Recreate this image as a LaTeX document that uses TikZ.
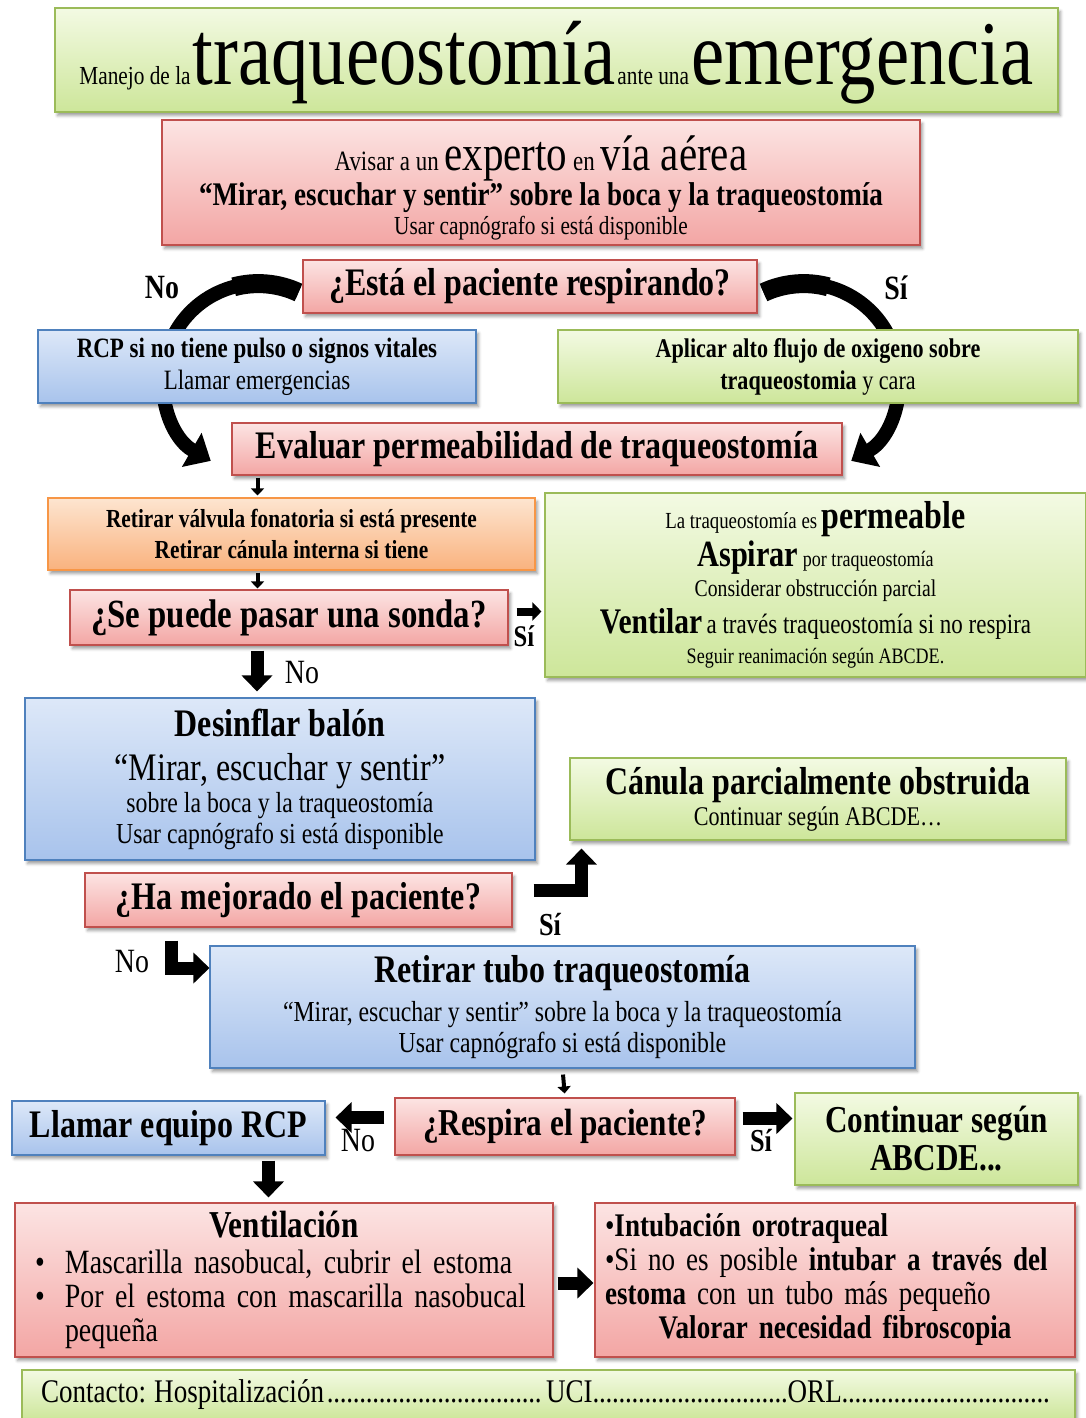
\documentclass[tikz,border=0pt]{standalone}
\usepackage{fontspec}
\setmainfont{Liberation Serif}[FakeStretch=0.82]
\usetikzlibrary{positioning,arrows.meta,shadows.blur,calc}
\definecolor{grnline}{HTML}{9BBB59}
\definecolor{grntop}{HTML}{F3FAE3}
\definecolor{grnbot}{HTML}{CDE69A}
\definecolor{redline}{HTML}{C0504D}
\definecolor{redtop}{HTML}{FCE4E3}
\definecolor{redbot}{HTML}{F3A6A4}
\definecolor{bluline}{HTML}{4F81BD}
\definecolor{blutop}{HTML}{DDE8F8}
\definecolor{blubot}{HTML}{A8C3EC}
\definecolor{orgline}{HTML}{F79646}
\definecolor{orgtop}{HTML}{FDE5D0}
\definecolor{orgbot}{HTML}{F9B27E}
\pgfdeclarelayer{bg}
\pgfsetlayers{bg,main}
\newcommand\fz[2]{\fontsize{#1}{#2}\selectfont}
\newcommand\dotz{\leaders\hbox to 6.5pt{\hss.\hss}\hfill}
\frenchspacing

\begin{document}
\begin{tikzpicture}[x=1pt,y=1pt,
  bx/.style={draw,line width=1.1pt,align=center,inner sep=3pt,
             blur shadow={shadow xshift=2.5pt,shadow yshift=-3.5pt,shadow blur radius=3pt,shadow opacity=40}},
  gbx/.style={bx,draw=grnline,top color=grntop,bottom color=grnbot},
  rbx/.style={bx,draw=redline,top color=redtop,bottom color=redbot},
  bbx/.style={bx,draw=bluline,top color=blutop,bottom color=blubot},
  obx/.style={bx,draw=orgline,top color=orgtop,bottom color=orgbot},
  sa/.style={-{Triangle[length=7pt,width=13pt]},line width=4pt},
  ma/.style={-{Triangle[length=9pt,width=18pt]},line width=8pt},
  ba/.style={-{Triangle[length=16pt,width=30pt]},line width=13pt},
  ca/.style={-{Triangle[length=22pt,width=38pt]},line width=14pt},
  lbl/.style={inner sep=0pt,font=\fz{34}{38}}]
\useasboundingbox (0,0) rectangle (1086,-1418);

% boxes
\node[gbx,minimum width=1003,minimum height=104,text height=70,text depth=20] (title) at (556.5,-60)
  {{\fz{26}{28}Manejo de la} {\fz{91}{90}traqueostomía} {\fz{26}{28}ante una} {\fz{91}{90}emergencia}};
\node[rbx,minimum width=758,minimum height=125,font=\fz{28}{32}] (avisar) at (541,-182.5)
  {\rule{0pt}{46pt}Avisar a un {\fz{50}{40}experto} en {\fz{50}{40}vía aérea}\\[1pt]
   {\bfseries\fz{33}{35}“Mirar, escuchar y sentir” sobre la boca y la traqueostomía}\\[-3pt]
   {\fz{26}{30}Usar capnógrafo si está disponible}};
\node[rbx,minimum width=454,minimum height=53,font=\bfseries\fz{39}{44}] (esta) at (530,-286.5)
  {¿Está el paciente respirando?};
\node[bbx,minimum width=438,minimum height=73,font=\fz{28}{32}] (rcp) at (257,-366.5)
  {{\bfseries RCP si no tiene pulso o signos vitales}\\Llamar emergencias};
\node[gbx,minimum width=520,minimum height=73,font=\fz{27}{32}] (aplicar) at (818,-366.5)
  {{\bfseries Aplicar alto flujo de oxigeno sobre}\\{\bfseries traqueostomia} y cara};
\node[rbx,minimum width=610,minimum height=52,font=\bfseries\fz{39}{44}] (evaluar) at (537,-449)
  {Evaluar permeabilidad de traqueostomía};
\node[obx,minimum width=487,minimum height=72,font=\bfseries\fz{26}{31}] (retv) at (291.5,-534)
  {Retirar válvula fonatoria si está presente\\Retirar cánula interna si tiene};
\node[rbx,minimum width=438,minimum height=55,font=\bfseries\fz{40}{44}] (sonda) at (289,-617.5)
  {¿Se puede pasar una sonda?};
\node[gbx,minimum width=541,minimum height=184,font=\fz{22}{30}] (perm) at (815.5,-585)
  {{\fz{23}{30}La traqueostomía es} {\bfseries\fz{39}{40}permeable}\\[3pt]
   {\bfseries\fz{37}{40}Aspirar} {\fz{22}{30}por traqueostomía}\\
   {\fz{24}{30}Considerar obstrucción parcial}\\[6pt]
   {\bfseries\fz{36}{40}Ventilar} {\fz{28}{30}a través traqueostomía si no respira}\\
   {\fz{22}{30}Seguir reanimación según ABCDE.}};
\node[bbx,minimum width=510,minimum height=162,font=\fz{29}{30}] (desinf) at (280,-779)
  {{\bfseries\fz{39}{44}Desinflar balón}\\[14pt]
   {\fz{39}{44}“Mirar, escuchar y sentir”}\\[2pt]
   sobre la boca y la traqueostomía\\[1pt]
   Usar capnógrafo si está disponible};
\node[gbx,minimum width=496,minimum height=82,font=\fz{27}{29}] (canula) at (818,-799)
  {{\bfseries\fz{39}{44}Cánula parcialmente obstruida}\\[2pt]Continuar según ABCDE…};
\node[rbx,minimum width=427,minimum height=54,font=\bfseries\fz{39}{44}] (hamej) at (298.5,-900)
  {¿Ha mejorado el paciente?};
\node[bbx,minimum width=705,minimum height=122,font=\fz{29}{30}] (retubo) at (562.5,-1007)
  {{\bfseries\fz{39}{44}Retirar tubo traqueostomía}\\[9pt]
   “Mirar, escuchar y sentir” sobre la boca y la traqueostomía\\[1pt]
   Usar capnógrafo si está disponible};
\node[bbx,minimum width=313,minimum height=54,font=\bfseries\fz{39}{44}] (llamar) at (168.5,-1128)
  {Llamar equipo RCP};
\node[rbx,minimum width=340,minimum height=57,font=\bfseries\fz{38}{44}] (respira) at (565,-1126.5)
  {¿Respira el paciente?};
\node[gbx,minimum width=283,minimum height=92,font=\bfseries\fz{38}{38}] (contin) at (936.5,-1139)
  {Continuar según\\ABCDE...};
\node[rbx,minimum height=154,text width=498,inner xsep=20pt,align=left,font=\fz{34}{34}] (ventil) at (284,-1280)
  {\makebox[498pt][c]{\bfseries\fz{38}{38}Ventilación}\\[2pt]
   \makebox[498pt][l]{\makebox[30pt][l]{•}Mascarilla nasobucal, cubrir el estoma}\\
   \makebox[498pt][l]{\makebox[30pt][l]{•}Por el estoma con mascarilla nasobucal}\\
   \makebox[498pt][l]{\hspace*{30pt}pequeña}};
\node[rbx,minimum height=154,text width=460,inner xsep=10pt,align=left,font=\fz{33}{34}] (intub) at (835,-1280)
  {\makebox[460pt][l]{•\textbf{Intubación orotraqueal}}\\
   \makebox[460pt][l]{•Si no es posible \textbf{intubar a través del}}\\
   \makebox[460pt][l]{\textbf{estoma} con un tubo más pequeño}\\
   \makebox[460pt][c]{\textbf{Valorar necesidad fibroscopia}}};
\node[gbx,minimum height=50,text width=1015,inner xsep=19pt,align=left,font=\fz{33}{34}] (contacto) at (548.5,-1395)
  {\makebox[505pt][l]{Contacto:\kern-3pt\ Hospitalización\dotz}UCI\makebox[195pt]{\dotz}ORL\makebox[212pt]{\dotz}};

% labels
\node[lbl,font=\bfseries\fz{34}{38}] (no1) at (162,-288) {No};
\node[lbl,font=\bfseries\fz{34}{38}] (si1) at (896,-288) {Sí};
\node[lbl,font=\bfseries\fz{30}{34}] (si2) at (524,-636) {Sí};
\node[lbl] (no2) at (302,-673) {No};
\node[lbl,font=\bfseries\fz{32}{34}] (si3) at (550,-925) {Sí};
\node[lbl] (no3) at (132,-962) {No};
\node[lbl] (no4) at (358,-1141) {No};
\node[lbl,font=\bfseries\fz{32}{34}] (si4) at (761,-1141) {Sí};

% arrows
\begin{pgfonlayer}{bg}
\draw[ca] ([shift={(-4pt,-6pt)}]esta.west) arc[start angle=65,end angle=240,radius=95];
\draw[line width=19pt] ([shift={(-4pt,-6pt)}]esta.west) arc[start angle=65,end angle=105,radius=95];
\draw[ca] ([shift={(6pt,-6pt)}]esta.east) arc[start angle=115,end angle=-60,radius=95];
\draw[line width=19pt] ([shift={(6pt,-6pt)}]esta.east) arc[start angle=115,end angle=75,radius=95];
\end{pgfonlayer}
\draw[sa,shorten <=2pt,shorten >=2pt] ([xshift=-34pt]retv.north |- evaluar.south) -- ([xshift=-34pt]retv.north);
\draw[sa,shorten <=2pt,shorten >=1pt] ([xshift=-34pt]retv.south) -- ([xshift=-34pt]retv.south |- sonda.north);
\draw[ba,shorten <=5pt,shorten >=6pt] ([xshift=-32pt]sonda.south) -- ([xshift=-32pt]sonda.south |- desinf.north);
\draw[ma,shorten <=8pt,shorten >=3pt] ([yshift=6pt]sonda.east) -- ([yshift=6pt]sonda.east -| perm.west);
\draw[ba,shorten <=21pt,shorten >=8pt] ([yshift=10pt]hamej.east) -| ([xshift=12pt]canula.south west);
\draw[ba,shorten <=13pt] ([xshift=87pt]hamej.south west) |- ([yshift=39pt]retubo.west);
\draw[sa,shorten <=6pt,shorten >=4pt] (retubo.south) -- (respira.north);
\draw[ba,shorten <=10pt,shorten >=10pt] ([yshift=9pt]respira.west) -- ([yshift=9pt]respira.west -| llamar.east);
\draw[ba,shorten <=7pt,shorten >=2pt] ([yshift=8pt]respira.east) -- ([yshift=8pt]respira.east -| contin.west);
\draw[ba,shorten <=5pt,shorten >=5pt] ([xshift=100pt]llamar.south) -- ([xshift=100pt]llamar.south |- ventil.north);
\draw[ba,shorten <=4pt,shorten >=1pt] ([yshift=-3pt]ventil.east) -- ([yshift=-3pt]ventil.east -| intub.west);
\end{tikzpicture}
\end{document}
